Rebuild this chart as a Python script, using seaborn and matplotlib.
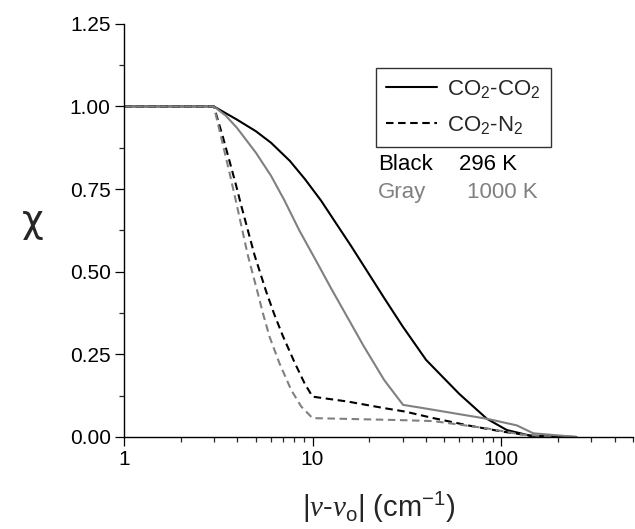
import numpy as np
import pandas as pd
import matplotlib
matplotlib.use("Agg")
import matplotlib.pyplot as plt
from matplotlib.lines import Line2D
from matplotlib.ticker import FixedLocator, FixedFormatter, MultipleLocator, LogLocator, NullFormatter
import seaborn as sns

# ---- data ----
co2co2_296_x = [1, 3, 3.98, 5.01, 6.03, 7.59, 9.12, 11.1, 13.2, 16, 19.3, 24, 30,
                40, 60, 84, 107, 142, 250]
co2co2_296_y = [1.0, 1.0, 0.96, 0.925, 0.89, 0.835, 0.78, 0.715, 0.65, 0.578, 0.505, 0.42, 0.335,
                0.233, 0.130, 0.055, 0.021, 0.004, 0.0]

co2co2_1000_x = [1, 3, 3.47, 3.98, 5.01, 6.03, 7.08, 8.51, 10.47, 12.59, 15.49, 18.62, 23.99, 30.2,
                 37, 84, 121, 148, 251]
co2co2_1000_y = [1.0, 1.0, 0.972, 0.935, 0.86, 0.79, 0.717, 0.625, 0.532, 0.448, 0.357, 0.276,
                 0.172, 0.097, 0.089, 0.055, 0.035, 0.011, 0.0]

co2n2_296_x = [1, 3, 3.36, 3.63, 3.94, 4.19, 4.93, 5.68, 6.28, 6.97, 8.04, 9.08, 10,
               15.4, 24.1, 30.8, 43.7, 68, 102, 160]
co2n2_296_y = [1.0, 1.0, 0.905, 0.835, 0.76, 0.70, 0.55, 0.44, 0.37, 0.305, 0.225, 0.162, 0.122,
               0.107, 0.087, 0.077, 0.057, 0.034, 0.016, 0.0]

co2n2_1000_x = [1, 3, 3.3, 3.63, 3.94, 4.54, 5.13, 5.46, 5.92, 6.68, 7.71, 8.71, 10, 29, 43.7,
                84, 126, 189]
co2n2_1000_y = [1.0, 1.0, 0.90, 0.80, 0.71, 0.55, 0.435, 0.374, 0.303, 0.223, 0.142, 0.092,
                0.057, 0.051, 0.048, 0.026, 0.008, 0.0]

x_ticks = [1, 10, 100]
x_tick_labels = ["1", "10", "100"]
y_ticks = [0.0, 0.25, 0.5, 0.75, 1.0, 1.25]
y_tick_labels = ["0.00", "0.25", "0.50", "0.75", "1.00", "1.25"]

legend_labels = ["CO$_2$-CO$_2$", "CO$_2$-N$_2$"]

# ---- style ----
sns.set_style("ticks")
plt.rcParams["font.family"] = ["Liberation Sans", "DejaVu Sans"]
plt.rcParams["mathtext.fontset"] = "custom"
plt.rcParams["mathtext.rm"] = "Liberation Sans"
plt.rcParams["mathtext.it"] = "Liberation Serif:italic"
plt.rcParams["mathtext.default"] = "regular"

BLACK = "#000000"
GRAY = "#808080"
DASH = (3.6, 2.2)

fig = plt.figure(figsize=(6.35, 5.29), dpi=100)
ax = fig.add_axes([0.195, 0.174, 0.802, 0.781])

series = [
    (co2co2_296_x, co2co2_296_y, BLACK, "-"),
    (co2co2_1000_x, co2co2_1000_y, GRAY, "-"),
    (co2n2_296_x, co2n2_296_y, BLACK, "--"),
    (co2n2_1000_x, co2n2_1000_y, GRAY, "--"),
]
for xs, ys, col, ls in series:
    df = pd.DataFrame({"x": xs, "y": ys})
    sns.lineplot(data=df, x="x", y="y", ax=ax, color=col, linestyle=ls,
                 linewidth=1.5, estimator=None, sort=False)
    ax.lines[-1].set_solid_joinstyle("round")
    if ls == "--":
        ax.lines[-1].set_dashes(DASH)

ax.set_xscale("log")
ax.set_xlim(1, 500)
ax.set_ylim(0, 1.25)

ax.xaxis.set_major_locator(FixedLocator(x_ticks))
ax.xaxis.set_major_formatter(FixedFormatter(x_tick_labels))
ax.xaxis.set_minor_locator(LogLocator(base=10, subs=np.arange(2, 10)))
ax.xaxis.set_minor_formatter(NullFormatter())
ax.yaxis.set_major_locator(FixedLocator(y_ticks))
ax.yaxis.set_major_formatter(FixedFormatter(y_tick_labels))
ax.yaxis.set_minor_locator(MultipleLocator(0.125))

ax.tick_params(which="major", direction="out", length=6.5, width=0.9, labelsize=15,
               colors="black", pad=3)
ax.tick_params(which="minor", direction="out", length=3.6, width=0.9)
for s in ["top", "right"]:
    ax.spines[s].set_visible(False)
for s in ["left", "bottom"]:
    ax.spines[s].set_linewidth(1.0)
    ax.spines[s].set_color("black")

ax.set_xlabel(r"$|\mathit{\nu}$-$\mathit{\nu}_\mathrm{o}|$ (cm$^{-1}$)", fontsize=21, labelpad=15)
ax.set_ylabel("χ", fontsize=27, rotation=0, ha="center", va="center",
              family=["DejaVu Sans"])
ax.yaxis.set_label_coords(-0.179, 0.52)

handles = [Line2D([], [], color=BLACK, lw=1.5, ls="-"),
           Line2D([], [], color=BLACK, lw=1.5, ls=(0, DASH))]
leg = ax.legend(handles, legend_labels, loc="upper left", bbox_to_anchor=(0.495, 0.893),
                fontsize=16, frameon=True, fancybox=False, edgecolor="black",
                handlelength=2.3, borderaxespad=0, borderpad=0.45, labelspacing=0.6,
                handletextpad=0.45)
leg.get_frame().set_linewidth(1.0)

ax.text(0.499, 0.659, "Black", transform=ax.transAxes, fontsize=16, color=BLACK, va="center")
ax.text(0.658, 0.659, "296 K", transform=ax.transAxes, fontsize=16, color=BLACK, va="center")
ax.text(0.499, 0.591, "Gray", transform=ax.transAxes, fontsize=16, color=GRAY, va="center")
ax.text(0.673, 0.591, "1000 K", transform=ax.transAxes, fontsize=16, color=GRAY, va="center")

fig.savefig("out.png", dpi=100)
